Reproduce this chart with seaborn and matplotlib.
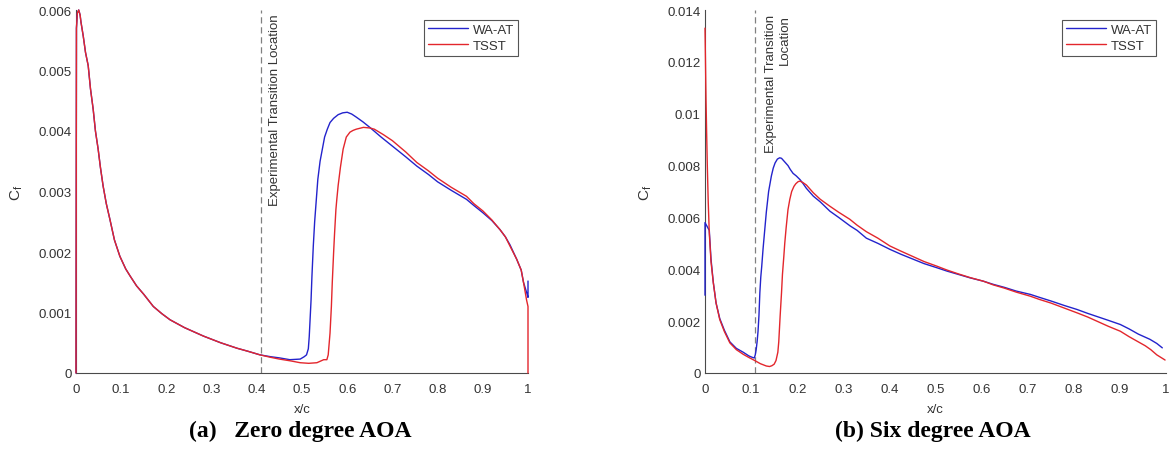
import numpy as np
import pandas as pd
import matplotlib
matplotlib.use("Agg")
import matplotlib.pyplot as plt
import matplotlib.transforms as mtransforms
import seaborn as sns

# ---------------- data ----------------
models = ["WA-AT", "TSST"]

# (a) zero degree AOA
x0_waat = [0, 0.001, 0.003, 0.006, 0.009, 0.011, 0.016, 0.021, 0.027, 0.032, 0.038, 0.043, 0.049,
           0.054, 0.060, 0.067, 0.075, 0.085, 0.097, 0.11, 0.12, 0.134, 0.15, 0.171, 0.19, 0.208,
           0.24, 0.282, 0.32, 0.356, 0.38, 0.407, 0.43, 0.45, 0.473, 0.496, 0.505, 0.510, 0.514,
           0.516, 0.518, 0.520, 0.522, 0.525, 0.528, 0.530, 0.535, 0.540, 0.545, 0.550, 0.556, 0.562,
           0.570, 0.580, 0.590, 0.600, 0.610, 0.620, 0.635, 0.650, 0.675, 0.700, 0.730, 0.754, 0.780,
           0.800, 0.830, 0.864, 0.880, 0.900, 0.920, 0.938, 0.950, 0.960, 0.975, 0.985, 0.990, 0.997,
           1.0, 1.0]
cf0_waat = [0, 0.0057, 0.00595, 0.0060, 0.00592, 0.0058, 0.00557, 0.0053, 0.00508, 0.0047, 0.00436,
            0.0040, 0.0037, 0.0034, 0.00309, 0.0028, 0.00254, 0.0022, 0.00193, 0.00172, 0.0016,
            0.00144, 0.0013, 0.0011, 0.00098, 0.00088, 0.00075, 0.00061, 0.0005, 0.00041, 0.00036,
            0.0003, 0.00027, 0.00025, 0.00022, 0.00023, 0.00027, 0.0003, 0.0004, 0.0006, 0.0009,
            0.0012, 0.0016, 0.0021, 0.0025, 0.0027, 0.0032, 0.0035, 0.0037, 0.0039, 0.00403, 0.00414,
            0.00421, 0.00427, 0.0043, 0.00431, 0.00428, 0.00423, 0.00415, 0.00406, 0.0039, 0.00375,
            0.00357, 0.00342, 0.00328, 0.00316, 0.00302, 0.00287, 0.00277, 0.00265, 0.00252, 0.00237,
            0.00225, 0.00212, 0.00188, 0.0017, 0.0015, 0.00133, 0.00125, 0.00152]

x0_tsst = [0, 0.001, 0.003, 0.006, 0.009, 0.011, 0.016, 0.021, 0.027, 0.032, 0.038, 0.043, 0.049,
           0.054, 0.060, 0.067, 0.075, 0.085, 0.097, 0.11, 0.12, 0.134, 0.15, 0.171, 0.19, 0.208,
           0.24, 0.282, 0.32, 0.356, 0.38, 0.407, 0.43, 0.45, 0.475, 0.496, 0.515, 0.533, 0.548,
           0.555, 0.558, 0.562, 0.565, 0.567, 0.570, 0.572, 0.575, 0.577, 0.580, 0.585, 0.591, 0.598,
           0.606, 0.613, 0.620, 0.636, 0.650, 0.660, 0.680, 0.700, 0.730, 0.754, 0.780, 0.800, 0.830,
           0.864, 0.880, 0.900, 0.920, 0.938, 0.950, 0.960, 0.975, 0.985, 0.990, 0.997, 1.0, 1.0]
cf0_tsst = [0, 0.0057, 0.00595, 0.0060, 0.00592, 0.0058, 0.00557, 0.0053, 0.00508, 0.0047, 0.00436,
            0.0040, 0.0037, 0.0034, 0.00309, 0.0028, 0.00254, 0.0022, 0.00193, 0.00172, 0.0016,
            0.00144, 0.0013, 0.0011, 0.00098, 0.00088, 0.00075, 0.00061, 0.0005, 0.00041, 0.00036,
            0.0003, 0.00026, 0.00023, 0.0002, 0.00017, 0.00016, 0.00017, 0.00022, 0.00022, 0.0003,
            0.00066, 0.0011, 0.0015, 0.0020, 0.0023, 0.0027, 0.00287, 0.0031, 0.0034, 0.0037, 0.0039,
            0.00398, 0.00401, 0.00403, 0.00406, 0.00405, 0.00403, 0.00394, 0.00384, 0.00365, 0.00348,
            0.00334, 0.00322, 0.00307, 0.00292, 0.0028, 0.00268, 0.00253, 0.00237, 0.00225, 0.0021,
            0.00188, 0.0017, 0.0015, 0.0012, 0.0011, 0.0]

# (b) six degree AOA
x6_waat = [0, 0, 0.0093, 0.013, 0.018, 0.024, 0.032, 0.042,
           0.054, 0.068, 0.083, 0.095, 0.103, 0.107, 0.109, 0.111, 0.113, 0.115, 0.117, 0.119, 0.121,
           0.123, 0.126, 0.129, 0.133, 0.138, 0.144, 0.148, 0.152, 0.157, 0.162, 0.166, 0.170, 0.175,
           0.180, 0.185, 0.191, 0.198, 0.206, 0.213, 0.220, 0.235, 0.250, 0.271, 0.290, 0.315, 0.330,
           0.350, 0.375, 0.401, 0.425, 0.450, 0.475, 0.503, 0.525, 0.550, 0.575, 0.604, 0.625, 0.650,
           0.675, 0.706, 0.725, 0.750, 0.780, 0.807, 0.830, 0.850, 0.875, 0.901, 0.920, 0.940, 0.955,
           0.965, 0.980, 0.992]
cf6_waat = [0.0030, 0.0058, 0.0055, 0.0044, 0.0035, 0.0027,
            0.0021, 0.00165, 0.0012, 0.00095, 0.0008, 0.00066, 0.0006, 0.00058, 0.0007, 0.0009,
            0.0012, 0.0016, 0.0022, 0.0031, 0.0037, 0.0041, 0.0048, 0.0054, 0.0062, 0.0070, 0.0076,
            0.0079, 0.0081, 0.00825, 0.0083, 0.00828, 0.0082, 0.0081, 0.0080, 0.00785, 0.0077, 0.0076,
            0.00746, 0.0073, 0.00712, 0.00682, 0.0066, 0.00624, 0.0060, 0.00567, 0.0055, 0.0052,
            0.0050, 0.00477, 0.00458, 0.0044, 0.00422, 0.00406, 0.00393, 0.0038, 0.00367, 0.00354,
            0.00342, 0.0033, 0.00316, 0.00303, 0.00292, 0.00278, 0.0026, 0.00245, 0.0023, 0.00218,
            0.00203, 0.00187, 0.0017, 0.0015, 0.00138, 0.0013, 0.00114, 0.00097]

x6_tsst = [0, 0.001, 0.0022, 0.0035, 0.005, 0.007, 0.0093, 0.013, 0.018, 0.024, 0.032, 0.042, 0.054,
           0.068, 0.083, 0.095, 0.108, 0.120, 0.133, 0.140, 0.145, 0.150, 0.154, 0.158, 0.160, 0.163,
           0.166, 0.168, 0.171, 0.173, 0.176, 0.180, 0.184, 0.188, 0.193, 0.197, 0.202, 0.206, 0.212,
           0.220, 0.235, 0.250, 0.271, 0.290, 0.314, 0.330, 0.350, 0.375, 0.401, 0.425, 0.450, 0.475,
           0.503, 0.525, 0.550, 0.575, 0.604, 0.625, 0.650, 0.675, 0.706, 0.725, 0.750, 0.780, 0.807,
           0.830, 0.850, 0.875, 0.901, 0.920, 0.940, 0.955, 0.967, 0.980, 0.998]
cf6_tsst = [0.0133, 0.0121, 0.01056, 0.0093, 0.0080, 0.0066, 0.0054, 0.0043, 0.00348, 0.0027,
            0.00206, 0.0016, 0.00116, 0.0009, 0.00072, 0.0006, 0.00048, 0.00036, 0.00027, 0.00025,
            0.00028, 0.00034, 0.00048, 0.0008, 0.0012, 0.0022, 0.0031, 0.0038, 0.0045, 0.0050,
            0.0056, 0.0063, 0.0067, 0.0070, 0.0072, 0.0073, 0.00738, 0.0074, 0.00735, 0.00725,
            0.00695, 0.0067, 0.00643, 0.0062, 0.00593, 0.0057, 0.00545, 0.0052, 0.0049, 0.0047,
            0.0045, 0.0043, 0.00412, 0.00397, 0.00382, 0.00368, 0.00354, 0.0034, 0.00327, 0.00312,
            0.00296, 0.00284, 0.0027, 0.0025, 0.00232, 0.00216, 0.0020, 0.0018, 0.00161, 0.0014,
            0.0012, 0.00105, 0.0009, 0.0007, 0.0005]

transition_x = [0.409, 0.108]
transition_text = ["Experimental Transition Location", "Experimental Transition\nLocation"]

xticks = [0, 0.1, 0.2, 0.3, 0.4, 0.5, 0.6, 0.7, 0.8, 0.9, 1.0]
xtick_labels = ["0", "0.1", "0.2", "0.3", "0.4", "0.5", "0.6", "0.7", "0.8", "0.9", "1"]
yticks_a = [0, 0.001, 0.002, 0.003, 0.004, 0.005, 0.006]
ytick_labels_a = ["0", "0.001", "0.002", "0.003", "0.004", "0.005", "0.006"]
yticks_b = [0, 0.002, 0.004, 0.006, 0.008, 0.01, 0.012, 0.014]
ytick_labels_b = ["0", "0.002", "0.004", "0.006", "0.008", "0.01", "0.012", "0.014"]
captions = ["(a)   Zero degree AOA", "(b) Six degree AOA"]

# ---------------- style ----------------
sns.set_theme(style="white")
plt.rcParams["font.family"] = ["Liberation Sans", "DejaVu Sans"]
plt.rcParams["mathtext.fontset"] = "custom"
plt.rcParams["mathtext.rm"] = "Liberation Sans"

text_col = "#333333"
axis_col = "#4a4a4a"
palette = {"WA-AT": "#2323cc", "TSST": "#e3262c"}

W, H = 1169, 456
fig = plt.figure(figsize=(W / 100, H / 100), dpi=100)
ax_a = fig.add_axes([76 / W, 1 - 374 / H, 452 / W, 363 / H])
ax_b = fig.add_axes([705 / W, 1 - 374 / H, 461 / W, 363 / H])


def make_df(xw, cw, xt, ct):
    dfw = pd.DataFrame({"x": xw, "cf": cw, "model": models[0]})
    dft = pd.DataFrame({"x": xt, "cf": ct, "model": models[1]})
    return pd.concat([dfw, dft], ignore_index=True)


panels = [
    (ax_a, make_df(x0_waat, cf0_waat, x0_tsst, cf0_tsst), yticks_a, ytick_labels_a, 0.006, 0.017),
    (ax_b, make_df(x6_waat, cf6_waat, x6_tsst, cf6_tsst), yticks_b, ytick_labels_b, 0.014, 0.022),
]

for i, (ax, df, yt, ytl, ymax, txt_off) in enumerate(panels):
    sns.lineplot(data=df, x="x", y="cf", hue="model", hue_order=models, palette=palette,
                 estimator=None, sort=False, linewidth=1.0, ax=ax)
    for ln in ax.get_lines():
        ln.set_clip_on(False)
        ln.set_zorder(3)
    ax.axvline(transition_x[i], color="#808080", linestyle=(0, (5, 3)), linewidth=0.9, zorder=1)
    trans = mtransforms.blended_transform_factory(ax.transData, ax.transAxes)
    ax.text(transition_x[i] + txt_off, 0.99, transition_text[i],
            transform=trans, rotation=90, rotation_mode="anchor", ha="right", va="top",
            multialignment="right", fontsize=9.5, color=text_col, linespacing=1.25)
    ax.set_xlim(0, 1)
    ax.set_ylim(0, ymax)
    ax.set_xticks(xticks)
    ax.set_xticklabels(xtick_labels)
    ax.set_yticks(yt)
    ax.set_yticklabels(ytl)
    ax.tick_params(axis="both", direction="in", length=4, width=0.8, color=axis_col,
                   labelsize=9.5, labelcolor=text_col)
    ax.tick_params(axis="x", pad=7)
    ax.tick_params(axis="y", pad=3)
    for s in ["top", "right"]:
        ax.spines[s].set_visible(False)
    for s in ["left", "bottom"]:
        ax.spines[s].set_color(axis_col)
        ax.spines[s].set_linewidth(0.8)
        ax.spines[s].set_zorder(1.5)
    ax.set_xlabel("x/c", fontsize=9.5, color=text_col, labelpad=6)
    ax.set_ylabel("C$_\\mathregular{f}$", fontsize=11, color=text_col, labelpad=10)
    leg = ax.legend(loc="upper right", frameon=True, fancybox=False, framealpha=1,
                    edgecolor="#555555", fontsize=9.5, handlelength=3.0, handletextpad=0.4,
                    labelspacing=0.25, borderpad=0.3, borderaxespad=0.75, title=None)
    leg.get_frame().set_linewidth(0.8)
    leg.set_zorder(5)
    for t in leg.get_texts():
        t.set_color(text_col)
    ax.set_facecolor("white")

fig.text(300 / W, 1 - 431 / H, captions[0], ha="center", va="center",
         fontfamily="Liberation Serif", fontweight="bold", fontsize=17, color="black")
fig.text(933 / W, 1 - 431 / H, captions[1], ha="center", va="center",
         fontfamily="Liberation Serif", fontweight="bold", fontsize=17, color="black")

fig.savefig("out.png", dpi=100, facecolor="white")
